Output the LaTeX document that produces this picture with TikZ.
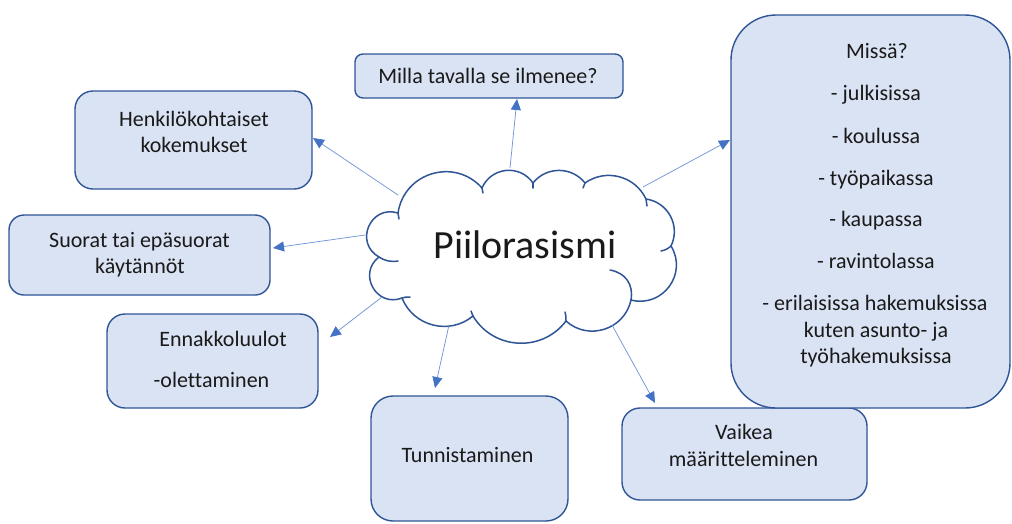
\documentclass[tikz,border=0pt]{standalone}
\usepackage{fontspec}
\setmainfont{Carlito}[Ligatures={NoCommon}]
\usetikzlibrary{arrows.meta,calc}
\definecolor{boxfill}{HTML}{DAE3F3}
\definecolor{boxline}{HTML}{2F5597}
\definecolor{arrowcol}{HTML}{4472C4}
\definecolor{arrowline}{HTML}{7396D6}
\definecolor{txt}{HTML}{1A1A1A}
\begin{document}
\begin{tikzpicture}[x=1pt,y=-1pt,
  box/.style={draw=boxline, fill=boxfill, line width=1.4pt, inner sep=0pt},
  lbl/.style={anchor=base, inner sep=0pt, font=\fontsize{22}{27}\selectfont, text=txt},
  cloudline/.style={draw=boxline, line width=1.5pt, line cap=round},
  conn/.style={draw=arrowline, line width=0.75pt, -{Triangle[length=11pt,width=10pt,color=arrowcol,fill=arrowcol]}}]
\useasboundingbox (0,0) rectangle (1012,523);
% boxes
\node[box, rounded corners=8pt, minimum width=268pt, minimum height=44pt] (milla) at (489,76) {};
\node[box, rounded corners=18pt, minimum width=237pt, minimum height=98pt] (henk) at (193.5,140) {};
\node[box, rounded corners=15pt, minimum width=261pt, minimum height=80pt] (suorat) at (139.5,255) {};
\node[box, rounded corners=18pt, minimum width=211pt, minimum height=94pt] (ennakko) at (212.5,361) {};
\node[box, rounded corners=22pt, minimum width=197pt, minimum height=125pt] (tunnis) at (469.5,458.5) {};
\node[box, rounded corners=18pt, minimum width=245pt, minimum height=92pt] (vaikea) at (744.5,454) {};
\node[box, rounded corners=45pt, minimum width=279pt, minimum height=393pt] (missa) at (870.5,211.5) {};
% cloud
\coordinate (p1) at (398,213);
\coordinate (p2) at (482,188);
\coordinate (p3) at (533,183);
\coordinate (p4) at (585,183);
\coordinate (p5) at (646,199);
\coordinate (p6) at (671,246);
\coordinate (p7) at (631,300);
\coordinate (p8) at (566,321);
\coordinate (p9) at (473,316);
\coordinate (p10) at (402,298);
\coordinate (p11) at (379,257);
\path[cloudline, fill=white] (p1)
  to[bend left=65, looseness=1.2] (p2)
  to[bend left=61, looseness=1.15] (p3)
  to[bend left=52, looseness=1.05] (p4)
  to[bend left=50, looseness=1.04] (p5)
  to[bend left=54, looseness=1.07] (p6)
  to[bend left=68, looseness=1.24] (p7)
  to[bend left=60, looseness=1.13] (p8)
  to[bend left=56, looseness=1.09] (p9)
  to[bend left=54, looseness=1.07] (p10)
  to[bend left=82, looseness=1.49] (p11)
  to[bend left=84, looseness=1.54] (p1) -- cycle;
% inner hooks of the puffs
\coordinate (h1) at (399,219);
\coordinate (h2) at (483,193);
\coordinate (h3) at (533,188);
\coordinate (h4) at (583,188);
\coordinate (h5) at (647,206);
\coordinate (h6) at (661,251);
\coordinate (h7) at (610,270);
\coordinate (h8) at (565,312);
\coordinate (h9) at (471,311);
\coordinate (h10) at (410,297);
\coordinate (h11) at (398,261);
\draw[cloudline] (p1) to[bend right=10] (h1);
\draw[cloudline] (p2) to[bend left=10] (h2);
\draw[cloudline] (p3) to[bend left=10] (h3);
\draw[cloudline] (p4) to[bend right=10] (h4);
\draw[cloudline] (p5) to[bend left=10] (h5);
\draw[cloudline] (p6) to[bend left=15] (h6);
\draw[cloudline] (h7) to[bend left=45, looseness=1.1] (p7);
\draw[cloudline] (p8) to[bend right=10] (h8);
\draw[cloudline] (p9) to[bend left=10] (h9);
\draw[cloudline] (p10) to[bend left=10] (h10);
\draw[cloudline] (p11) to[bend right=20] (h11);
% texts
\node[lbl] (t-milla) at (488,83) {Milla tavalla se ilmenee?};
\node[lbl] (t-henk1) at (194,126) {Henkilökohtaiset};
\node[lbl] (t-henk2) at (194,152) {kokemukset};
\node[lbl] (t-suo1) at (139.5,247) {Suorat tai epäsuorat};
\node[lbl] (t-suo2) at (140,273) {käytännöt};
\node[lbl] (t-enn1) at (223,346) {Ennakkoluulot};
\node[lbl] (t-enn2) at (211.5,387) {-olettaminen};
\node[lbl] (t-tun) at (467.5,462) {Tunnistaminen};
\node[lbl] (t-vai1) at (744,439) {Vaikea};
\node[lbl] (t-vai2) at (743.5,466) {määritteleminen};
\node[lbl] (t-m1) at (877,58) {Missä?};
\node[lbl] (t-m2) at (876,100) {- julkisissa};
\node[lbl] (t-m3) at (876,143) {- koulussa};
\node[lbl] (t-m4) at (876,185) {- työpaikassa};
\node[lbl] (t-m5) at (876,226) {- kaupassa};
\node[lbl] (t-m6) at (876,268) {- ravintolassa};
\node[lbl] (t-m7) at (875,310) {- erilaisissa hakemuksissa};
\node[lbl] (t-m8) at (876,337) {kuten asunto- ja};
\node[lbl] (t-m9) at (876,363) {työhakemuksissa};
\node[anchor=base, inner sep=0pt, font=\fontsize{40}{48}\selectfont, text=txt] (t-cloud) at (525,258) {Piilorasismi};
% connector ends
\coordinate (s1) at (510,168); \coordinate (e1) at (517,99);
\coordinate (s2) at (398,195); \coordinate (e2) at (313,138);
\coordinate (s3) at (365,235); \coordinate (e3) at (273,248);
\coordinate (s4) at (382,297); \coordinate (e4) at (330,337);
\coordinate (s5) at (449,325); \coordinate (e5) at (435,388);
\coordinate (s6) at (612,325); \coordinate (e6) at (655,403);
\coordinate (s7) at (643,187); \coordinate (e7) at (730,140);
\foreach \i in {1,...,7} { \draw[conn] (s\i) -- (e\i); }
\end{tikzpicture}
\end{document}
